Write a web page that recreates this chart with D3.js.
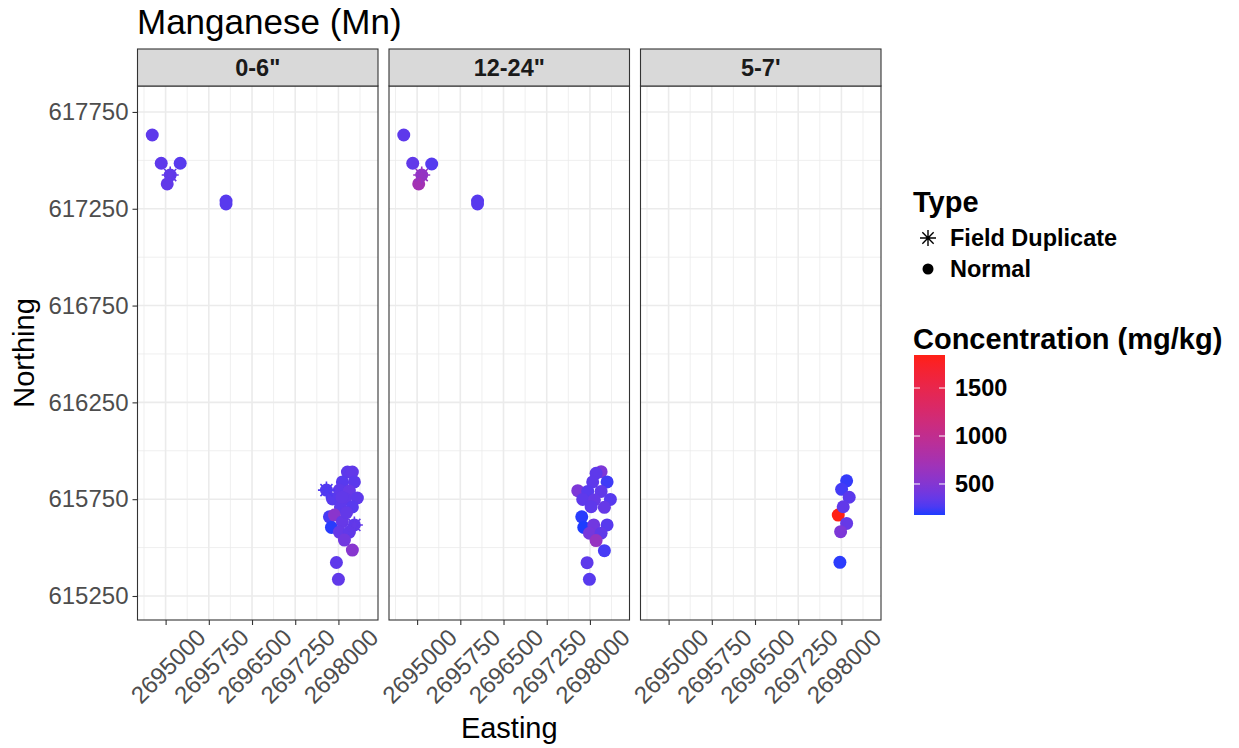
<!DOCTYPE html>
<html><head><meta charset="utf-8">
<script src="https://cdn.jsdelivr.net/npm/d3@7"></script>
<style>body{margin:0;background:#fff;} text{font-family:"Liberation Sans",Arial,sans-serif;}</style>
</head><body><svg id="chart" width="1239" height="748"></svg>
<script>
// ---------------- data ----------------
const depthLevels = ['0-6"', '12-24"', "5-7'"];
const typeLevels = ["Field Duplicate", "Normal"];
const xTicks = [2695000, 2695750, 2696500, 2697250, 2698000];
const yTicks = [615250, 615750, 616250, 616750, 617250, 617750];
const xLimits = [2694512, 2698687];
const yLimits = [615126, 617884];
const colorTicks = [500, 1000, 1500];
const colorLimits = [177, 1844];

// panel index (0 = 0-6", 1 = 12-24", 2 = 5-7')
const sampleDepth = [
  0,0,0,0,0,0,0,0, 0,0,0,0,0,0,0,0,0,0,0,0,0,0,0,0,0,0,0,0,0,0,0,0,0,0,0,
  1,1,1,1,1,1,1,1, 1,1,1,1,1,1,1,1,1,1,1,1,1,1,1,1,1,1,1,1,1,1,
  2,2,2,2,2,2,2,2
];
// 0 = Field Duplicate, 1 = Normal
const sampleType = [
  1,1,1,1,0,1,1,1, 1,1,1,1,1,0,1,1,1,1,1,1,1,1,1,1,1,0,1,1,1,1,1,1,1,1,1,
  1,1,1,1,0,1,1,1, 1,1,1,1,1,1,1,1,1,1,1,1,1,1,1,1,1,1,1,1,1,1,
  1,1,1,1,1,1,1,1
];
const sampleEasting = [
  2694768,2694924,2695253,2695080,2695080,2695028,2696049,2696049,
  2698156,2698242,2698069,2698277,2697792,2697792,2698017,2698190,2697896,2698121,2698329,2698035,2698242,
  2697844,2697931,2697879,2698277,2698277,2698069,2698017,2698190,2698104,2698242,2697965,2698000,2698140,2698060,
  2694768,2694924,2695253,2695080,2695080,2695028,2696049,2696049,
  2698194,2698107,2698298,2698048,2697789,2697962,2698194,2697875,2698078,2698355,2698021,2698251,
  2697858,2697893,2698066,2698298,2697991,2698194,2698107,2698251,2697951,2697991,
  2697945,2698090,2698003,2698135,2698031,2698090,2697986,2697974
];
const sampleNorthing = [
  617631,617485,617485,617424,617424,617378,617290,617275,
  615890,615890,615839,615839,615797,615797,615797,615792,615751,615751,615756,615710,615710,
  615659,615668,615604,615617,615617,615634,615580,615580,615539,615487,615423,615336,615680,615760,
  617631,617485,617481,617424,617424,617378,617290,617275,
  615892,615884,615839,615839,615794,615790,615790,615749,615746,615749,615711,615708,
  615659,615604,615617,615617,615574,615574,615536,615484,615422,615336,
  615668,615845,615801,615760,615711,615625,615582,615424
];
const sampleMn = [
  320,320,300,320,340,330,300,300,
  320,330,300,310,290,270,320,350,300,330,320,320,300,
  250,540,190,320,340,350,350,330,400,520,320,330,340,330,
  320,330,290,580,620,720,300,300,
  460,320,230,320,460,300,330,320,350,300,320,350,
  190,177,400,300,430,330,620,250,320,300,
  1844,210,240,310,330,350,460,195
];

// ---------------- layout ----------------
const panelLeft = [137.5, 389, 640.5], panelW = 240.5;
const panelTop = 86, panelBottom = 620, stripTop = 49;
const svg = d3.select("#chart");
const data = sampleMn.map((v, i) => ({
  e: sampleEasting[i], n: sampleNorthing[i], d: sampleDepth[i], t: sampleType[i], v
}));

const y = d3.scaleLinear().domain(yLimits).range([panelBottom, panelTop]);
const color = d3.scaleLinear().domain(colorLimits).range(["#1e3cff", "#ff2015"]).interpolate(d3.interpolateLab);

function minors(ticks, lim) {
  const step = ticks[1] - ticks[0];
  const m = ticks.map(t => t - step / 2).concat([ticks[ticks.length - 1] + step / 2]);
  return m.filter(v => v >= lim[0] && v <= lim[1]);
}
const xMinor = minors(xTicks, xLimits), yMinor = minors(yTicks, yLimits);

function starPath(r) {
  const d = r * Math.SQRT1_2;
  return `M${-r},0L${r},0M0,${-r}L0,${r}M${-d},${-d}L${d},${d}M${-d},${d}L${d},${-d}`;
}

depthLevels.forEach((lvl, pi) => {
  const x0 = panelLeft[pi];
  const x = d3.scaleLinear().domain(xLimits).range([x0, x0 + panelW]);
  const g = svg.append("g");
  g.append("rect").attr("x", x0).attr("y", panelTop).attr("width", panelW).attr("height", panelBottom - panelTop).attr("fill", "#fff");
  // grid
  g.selectAll(".vmin").data(xMinor).join("line").attr("x1", d => x(d)).attr("x2", d => x(d)).attr("y1", panelTop).attr("y2", panelBottom).attr("stroke", "#ebebeb").attr("stroke-width", 0.8);
  g.selectAll(".hmin").data(yMinor).join("line").attr("y1", d => y(d)).attr("y2", d => y(d)).attr("x1", x0).attr("x2", x0 + panelW).attr("stroke", "#ebebeb").attr("stroke-width", 0.8);
  g.selectAll(".vmaj").data(xTicks).join("line").attr("x1", d => x(d)).attr("x2", d => x(d)).attr("y1", panelTop).attr("y2", panelBottom).attr("stroke", "#ebebeb").attr("stroke-width", 1.6);
  g.selectAll(".hmaj").data(yTicks).join("line").attr("y1", d => y(d)).attr("y2", d => y(d)).attr("x1", x0).attr("x2", x0 + panelW).attr("stroke", "#ebebeb").attr("stroke-width", 1.6);

  const pd = data.filter(d => d.d === pi);
  const clip = "clip" + pi;
  svg.append("clipPath").attr("id", clip).append("rect").attr("x", x0).attr("y", panelTop).attr("width", panelW).attr("height", panelBottom - panelTop);
  const pts = g.append("g").attr("clip-path", `url(#${clip})`);
  pts.selectAll("circle").data(pd.filter(d => d.t === 1)).join("circle")
    .attr("cx", d => x(d.e)).attr("cy", d => y(d.n)).attr("r", 6.5).attr("fill", d => color(d.v));
  pts.selectAll("path").data(pd.filter(d => d.t === 0)).join("path")
    .attr("transform", d => `translate(${x(d.e)},${y(d.n)})`).attr("d", starPath(8.5))
    .attr("stroke", d => color(d.v)).attr("stroke-width", 1.6).attr("fill", "none");

  g.append("rect").attr("x", x0).attr("y", panelTop).attr("width", panelW).attr("height", panelBottom - panelTop)
    .attr("fill", "none").attr("stroke", "#333").attr("stroke-width", 1.1);
  // strip
  g.append("rect").attr("x", x0).attr("y", stripTop).attr("width", panelW).attr("height", panelTop - stripTop)
    .attr("fill", "#d9d9d9").attr("stroke", "#333").attr("stroke-width", 1.1);
  g.append("text").attr("x", x0 + panelW / 2).attr("y", (stripTop + panelTop) / 2).attr("dy", "0.36em")
    .attr("text-anchor", "middle").attr("font-weight", "bold").attr("font-size", 23.5).attr("fill", "#1a1a1a").text(lvl);

  // x axis
  const xa = g.append("g").attr("transform", `translate(0,${panelBottom})`)
    .call(d3.axisBottom(x).tickValues(xTicks).tickSize(5).tickFormat(d3.format("d")));
  xa.select(".domain").remove();
  xa.selectAll(".tick line").attr("stroke", "#333").attr("stroke-width", 1.1);
  xa.selectAll(".tick text").attr("y", 0).attr("dy", null)
    .attr("transform", "translate(2,46) rotate(-45)").attr("text-anchor", "middle").attr("dominant-baseline", "central")
    .attr("font-size", 24).attr("fill", "#4d4d4d").attr("font-family", "Liberation Sans, Arial, sans-serif");
  if (pi === 0) {
    const ya = g.append("g").attr("transform", `translate(${x0},0)`)
      .call(d3.axisLeft(y).tickValues(yTicks).tickSize(5).tickPadding(4).tickFormat(d3.format("d")));
    ya.select(".domain").remove();
    ya.selectAll(".tick line").attr("stroke", "#333").attr("stroke-width", 1.1);
    ya.selectAll(".tick text").attr("font-size", 24).attr("fill", "#4d4d4d").attr("font-family", "Liberation Sans, Arial, sans-serif");
  }
});

// titles
svg.append("text").attr("x", 137).attr("y", 34).attr("font-size", 35).attr("fill", "#000").text("Manganese (Mn)");
svg.append("text").attr("x", (panelLeft[0] + panelLeft[2] + panelW) / 2).attr("y", 738).attr("text-anchor", "middle")
  .attr("font-size", 29).attr("fill", "#000").text("Easting");
svg.append("text").attr("transform", `translate(34,${(panelTop + panelBottom) / 2}) rotate(-90)`).attr("text-anchor", "middle")
  .attr("font-size", 29).attr("fill", "#000").text("Northing");

// legend: Type
const lg = svg.append("g");
lg.append("text").attr("x", 913).attr("y", 212).attr("font-size", 29).attr("font-weight", "bold").text("Type");
typeLevels.forEach((t, i) => {
  const cy = 238 + i * 31;
  if (i === 0) lg.append("path").attr("transform", `translate(928,${cy})`).attr("d", starPath(8)).attr("stroke", "#000").attr("stroke-width", 1.4).attr("fill", "none");
  else lg.append("circle").attr("cx", 928).attr("cy", cy).attr("r", 5.5).attr("fill", "#000");
  lg.append("text").attr("x", 950).attr("y", cy).attr("dy", "0.36em").attr("font-size", 23.5).attr("font-weight", "bold").text(t);
});

// legend: colour bar
lg.append("text").attr("x", 913).attr("y", 349).attr("font-size", 29).attr("font-weight", "bold").text("Concentration (mg/kg)");
const barTop = 355, barBottom = 515, barX = 914, barW = 31;
const cb = d3.scaleLinear().domain(colorLimits).range([barBottom, barTop]);
const grad = svg.append("defs").append("linearGradient").attr("id", "cgrad").attr("x1", 0).attr("y1", 1).attr("x2", 0).attr("y2", 0);
d3.range(0, 1.0001, 0.05).forEach(t => {
  grad.append("stop").attr("offset", t).attr("stop-color", color(colorLimits[0] + t * (colorLimits[1] - colorLimits[0])));
});
lg.append("rect").attr("x", barX).attr("y", barTop).attr("width", barW).attr("height", barBottom - barTop).attr("fill", "url(#cgrad)");
colorTicks.forEach(v => {
  lg.append("line").attr("x1", barX).attr("x2", barX + 6).attr("y1", cb(v)).attr("y2", cb(v)).attr("stroke", "#fff").attr("stroke-width", 1);
  lg.append("line").attr("x1", barX + barW - 6).attr("x2", barX + barW).attr("y1", cb(v)).attr("y2", cb(v)).attr("stroke", "#fff").attr("stroke-width", 1);
  lg.append("text").attr("x", 955).attr("y", cb(v)).attr("dy", "0.36em").attr("font-size", 23.5).attr("font-weight", "bold").text(v);
});
</script></body></html>
